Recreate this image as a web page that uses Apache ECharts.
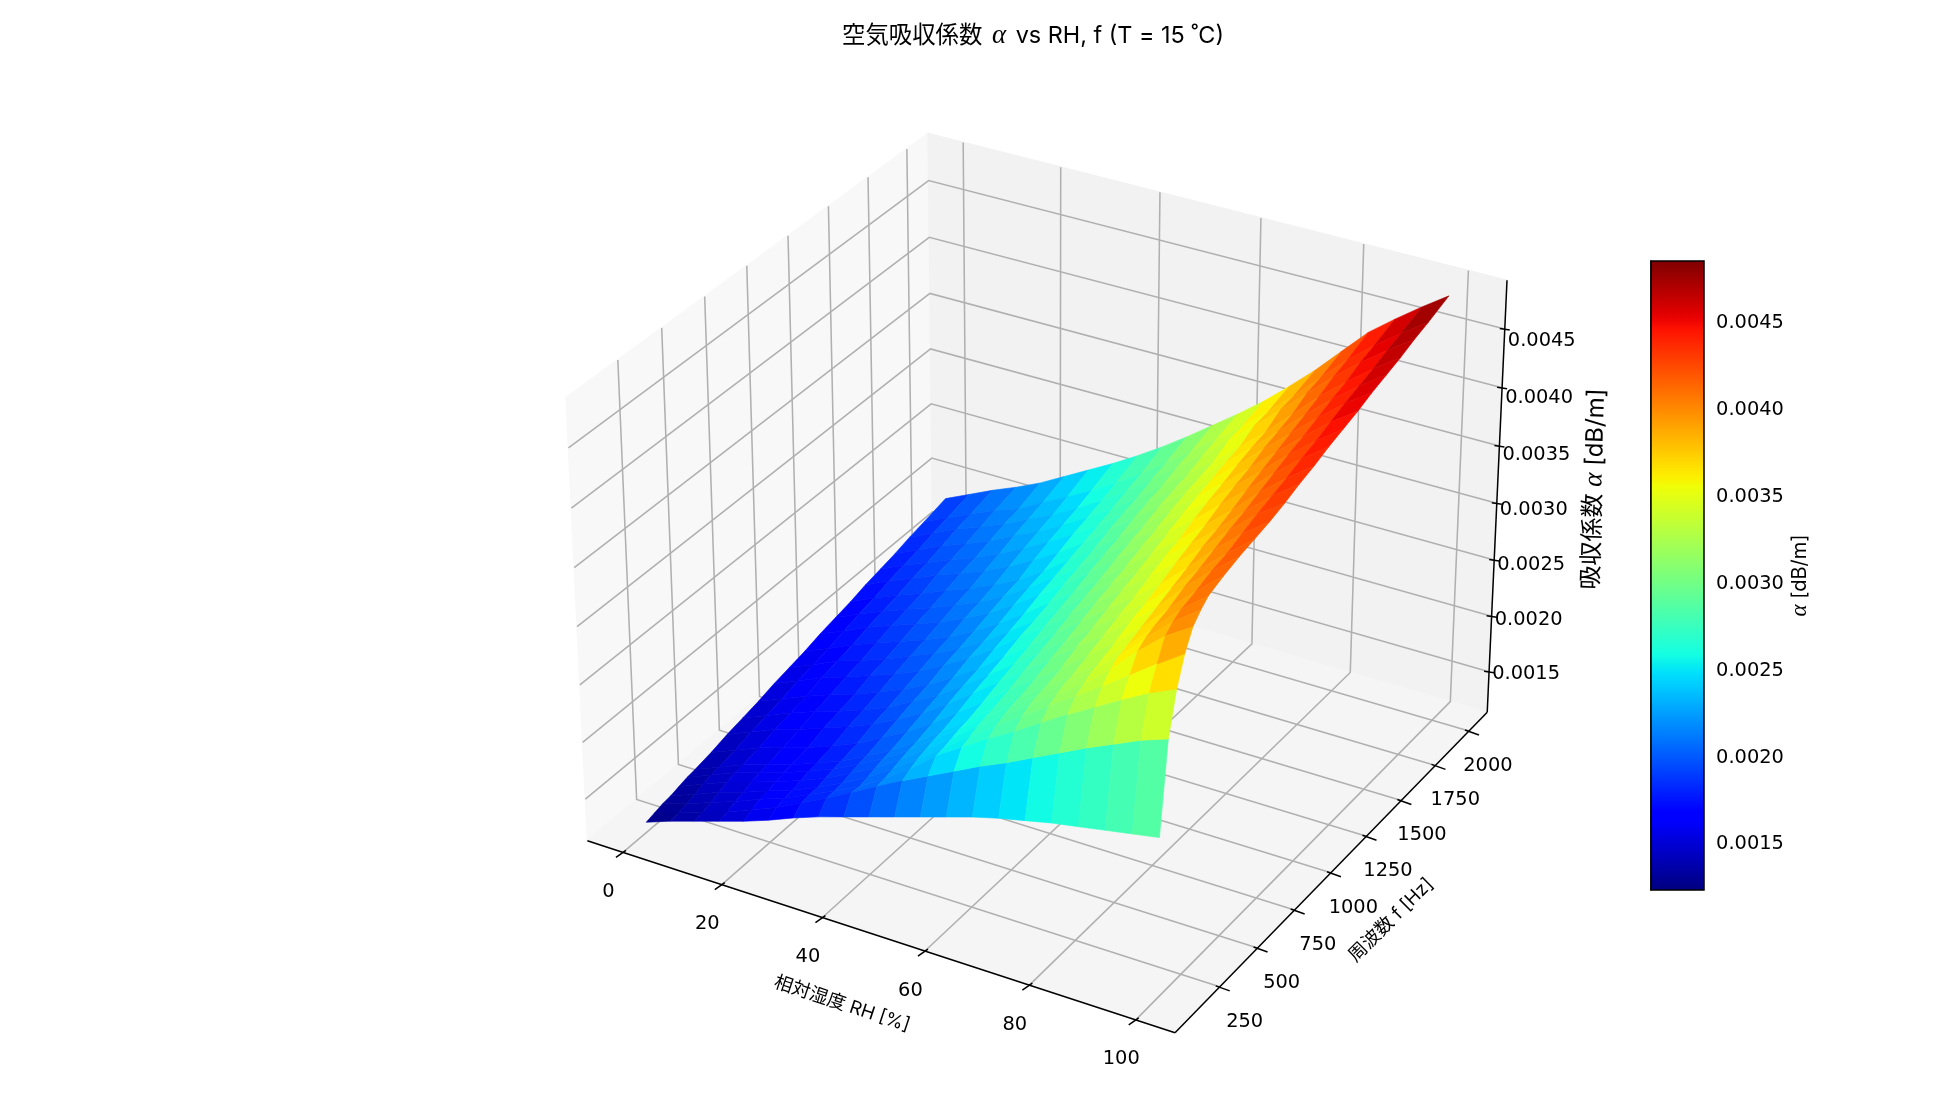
<!DOCTYPE html>
<html><head><meta charset="utf-8"><style>html,body{margin:0;background:#fff}#c{width:1960px;height:1120px}</style>
<script src="https://cdn.jsdelivr.net/npm/echarts@6/dist/echarts.min.js"></script></head><body><div id="c"></div>
<script>
const TITLE_TEXT='空気吸収係数 {a|α} vs RH, f (T = 15 ˚C)';
const RH=[0,5,10,15,20,25,30,35,40,45,50,55,60,65,70,75,80,85,90,95,100];
const FREQ=[100,149,198,246,295,344,392,490,588,685,782,880,978,1075,1173,1270,1368,1465,1563,1660,1758,1855,2000];
const ALPHA_UNIT=1e-5;
const alpha_f100=[122,130,137,144,151,159,168,176,183,190,197,204,211,218,224,229,234,238,242,246,250];
const alpha_f149=[124,131,139,146,155,164,175,186,198,210,222,233,244,255,265,276,287,298,308,318,326];
const alpha_f198=[126,133,141,149,158,166,176,186,197,211,226,244,258,272,285,299,313,326,339,351,361];
const alpha_f246=[127,135,144,151,159,167,176,187,199,213,229,245,261,277,292,307,322,337,353,369,384];
const alpha_f295=[129,138,147,154,161,169,178,189,201,215,231,247,264,280,296,311,326,345,367,386,400];
const alpha_f344=[131,140,149,156,163,171,180,191,203,217,233,249,266,282,298,314,330,350,372,392,408];
const alpha_f392=[132,141,150,157,164,172,181,192,204,218,234,250,267,283,299,315,332,352,375,396,414];
const alpha_f490=[135,144,153,160,167,175,184,196,208,222,238,254,271,287,303,320,337,357,379,400,419];
const alpha_f588=[139,148,157,164,172,180,189,200,212,227,243,259,276,292,309,325,343,362,385,405,423];
const alpha_f685=[142,151,160,168,175,183,192,204,216,231,247,263,280,296,313,330,347,367,389,408,426];
const alpha_f782=[145,154,163,171,178,187,196,207,220,234,251,267,284,301,318,334,352,372,394,413,429];
const alpha_f880=[149,158,168,175,183,191,200,212,225,239,256,272,289,306,323,340,358,378,399,418,433];
const alpha_f978=[152,161,171,178,186,195,204,215,228,243,259,276,293,310,327,345,363,382,403,422,438];
const alpha_f1075=[155,164,174,182,190,198,207,219,232,247,263,280,297,314,332,349,368,387,408,426,442];
const alpha_f1173=[159,168,178,186,194,202,212,223,237,252,268,285,302,319,337,355,374,393,413,431,447];
const alpha_f1270=[162,172,181,189,197,206,215,227,241,256,272,289,306,323,342,360,379,398,418,435,451];
const alpha_f1368=[165,175,184,192,201,209,219,230,244,260,276,293,310,328,346,364,383,403,422,440,455];
const alpha_f1465=[169,179,188,197,205,214,224,236,249,264,281,298,315,332,350,369,389,408,427,445,460];
const alpha_f1563=[172,182,191,200,208,218,229,241,254,268,285,302,318,335,354,373,393,413,432,449,464];
const alpha_f1660=[175,185,195,203,212,223,233,245,258,272,288,305,321,338,357,376,397,418,436,453,468];
const alpha_f1758=[179,189,199,207,216,227,237,249,262,277,293,310,326,345,364,384,404,424,442,458,473];
const alpha_f1855=[182,192,202,211,219,231,242,254,267,281,297,313,330,347,366,386,407,428,446,462,477];
const alpha_f2000=[187,197,207,216,226,238,250,262,275,289,304,320,336,353,372,392,414,436,453,469,484];
const ALPHA_ROWS=[alpha_f100,alpha_f149,alpha_f198,alpha_f246,alpha_f295,alpha_f344,alpha_f392,alpha_f490,alpha_f588,alpha_f685,alpha_f782,alpha_f880,alpha_f978,alpha_f1075,alpha_f1173,alpha_f1270,alpha_f1368,alpha_f1465,alpha_f1563,alpha_f1660,alpha_f1758,alpha_f1855,alpha_f2000];
const RH_TICKS=[0,20,40,60,80,100];
const F_TICKS=[250,500,750,1000,1250,1500,1750,2000];
const ALPHA_TICKS=[0.0015,0.002,0.0025,0.003,0.0035,0.004,0.0045];
const RH_RANGE=[-7.29,107.29], F_RANGE=[-38.5,2138.5], Z_RANGE=[0.00113,0.00491];
const C_RANGE=[0.00122,0.00484];

const lm=echarts.number.linearMap;
const BOX=[1.19048,1.19048,0.89286], S=5655, CX=1045.6, CY=561.5;
function proj(rh,f,a){
  const dx=lm(rh,RH_RANGE,[-BOX[0]/2,BOX[0]/2]),dy=lm(f,F_RANGE,[-BOX[1]/2,BOX[1]/2]),dz=lm(a,Z_RANGE,[-BOX[2]/2,BOX[2]/2]);
  const xv=.866025*dx+.5*dy, yv=-.25*dx+.433013*dy+.866025*dz, w=.433013*dx-.75*dy+.5*dz, D=10-w;
  return {x:CX+S*xv/D,y:CY-S*yv/D,d:D};
}
const P=(a,b,c)=>{const p=proj(a,b,c);return [p.x,p.y];};
function jet(t){
  const seg=(pts)=>{for(let i=1;i<pts.length;i++){if(t<=pts[i][0])return lm(t,[pts[i-1][0],pts[i][0]],[pts[i-1][1],pts[i][1]]);}return pts[pts.length-1][1];};
  t=Math.max(0,Math.min(1,t));
  const r=seg([[0,0],[.35,0],[.66,1],[.89,1],[1,.5]]),g=seg([[0,0],[.125,0],[.375,1],[.64,1],[.91,0],[1,0]]),b=seg([[0,.5],[.11,1],[.34,1],[.65,0],[1,0]]);
  return `rgb(${Math.round(r*255)},${Math.round(g*255)},${Math.round(b*255)})`;
}
const [xa,xb]=RH_RANGE,[ya,yb]=F_RANGE,[za,zb]=Z_RANGE;
const A=(j,i)=>ALPHA_ROWS[j][i]*ALPHA_UNIT;
const cells=[];
for(let j=0;j<FREQ.length-1;j++)for(let i=0;i<RH.length-1;i++){
  const cs=[[i,j],[i+1,j],[i+1,j+1],[i,j+1]];
  let dep=0,av=0;cs.forEach(c=>{const v=A(c[1],c[0]);av+=v/4;dep+=proj(RH[c[0]],FREQ[c[1]],v).d/4;});
  cells.push({i,j,dep,av});
}
cells.sort((a,b)=>b.dep-a.dep);
const surfaceData=cells.map(c=>[c.i,c.j,c.av]);
const FONT="Inter,'Noto Sans CJK JP',sans-serif";
const TICK_FONT="'DejaVu Sans',sans-serif";
const GRID='#b0b0b0', PANE_L='#f8f8f8', PANE_B='#f2f2f2', PANE_F='#f5f5f5';
function pane(pts,c){return {type:'polygon',shape:{points:pts},style:{fill:c,stroke:c,lineWidth:1.5}};}
function line(pts,c,w){return {type:'polyline',shape:{points:pts},style:{stroke:c,lineWidth:w,fill:null}};}
function txt(t,x,y,size,rot,rich,fam){return {type:'text',x,y,rotation:rot||0,style:{text:t,fontFamily:fam||FONT,fontSize:size,fill:'#000',align:'center',verticalAlign:'middle',textAlign:'center',textVerticalAlign:'middle',rich:rich}};}
const off=(p,dx,dy)=>[p[0]+dx,p[1]+dy];
function axesBack(){
  const ch=[];
  ch.push(pane([P(xa,ya,za),P(xa,yb,za),P(xa,yb,zb),P(xa,ya,zb)],PANE_L));
  ch.push(pane([P(xa,yb,za),P(xb,yb,za),P(xb,yb,zb),P(xa,yb,zb)],PANE_B));
  ch.push(pane([P(xa,ya,za),P(xb,ya,za),P(xb,yb,za),P(xa,yb,za)],PANE_F));
  RH_TICKS.forEach(v=>ch.push(line([P(v,ya,za),P(v,yb,za),P(v,yb,zb)],GRID,1.55)));
  F_TICKS.forEach(v=>ch.push(line([P(xb,v,za),P(xa,v,za),P(xa,v,zb)],GRID,1.55)));
  ALPHA_TICKS.forEach(v=>ch.push(line([P(xb,yb,v),P(xa,yb,v),P(xa,ya,v)],GRID,1.55)));
  ch.push(line([P(xa,ya,za),P(xb,ya,za)],'#000',1.5));
  ch.push(line([P(xb,ya,za),P(xb,yb,za)],'#000',1.5));
  ch.push(line([P(xb,yb,za),P(xb,yb,zb)],'#000',1.5));
  RH_TICKS.forEach(v=>{const p=P(v,ya,za);ch.push(line([off(p,-7,5),off(p,3,-2)],'#000',1.5));ch.push(txt(String(v),p[0]-14.5,p[1]+39.5,19.4,0,null,TICK_FONT));});
  F_TICKS.forEach(v=>{const p=P(xb,v,za);ch.push(line([off(p,-4,-1),off(p,10,4)],'#000',1.5));ch.push(txt(String(v),p[0]+21+(1400-v)/1750*6,p[1]+35,19.4,0,null,TICK_FONT));});
  ALPHA_TICKS.forEach(v=>{const p=P(xb,yb,v);ch.push(line([off(p,-5,-.5),off(p,5,1)],'#000',1.5));ch.push(txt(v.toFixed(4),p[0]+37,p[1]+2+(v-0.0015)/0.003*10,19.4,0,null,TICK_FONT));});
  const ri={a:{fontFamily:'Liberation Serif',fontStyle:'italic',fontSize:27}};
  ch.push(txt('相対湿度 RH [%]',842,1004,18.5,-0.32));
  ch.push(txt('周波数 f [Hz]',1391,920,18.5,0.78));
  ch.push(txt('吸収係数 {a|α} [dB/m]',1594,489,24,Math.PI/2-0.03,ri));
  return {type:'group',children:ch};
}
const stops=[];for(let k=0;k<=64;k++){stops.push({offset:k/64,color:jet(1-k/64)});}
const option={
  animation:false,backgroundColor:'#fff',
  title:{text:TITLE_TEXT,left:1028,top:17,textAlign:'center',textStyle:{fontFamily:FONT,fontSize:23.4,fontWeight:'normal',color:'#000',rich:{a:{fontFamily:'Liberation Serif',fontStyle:'italic',fontSize:27,color:'#000',padding:[0,3,0,3]}}}},
  grid:{left:1651,top:261,width:53,height:629,show:false},
  xAxis:{type:'value',min:0,max:1,show:false},
  yAxis:{type:'value',position:'right',min:C_RANGE[0],max:C_RANGE[1],
    splitLine:{show:false},axisLine:{show:true,lineStyle:{color:'#000',width:1.5}},
    axisTick:{show:true,length:7,customValues:ALPHA_TICKS,lineStyle:{color:'#000',width:1.5}},
    axisLabel:{show:false,customValues:ALPHA_TICKS},
    name:'{a|α} [dB/m]',nameLocation:'middle',nameRotate:90,nameGap:84,
    nameTextStyle:{fontFamily:FONT,fontSize:20,color:'#000',rich:{a:{fontFamily:'Liberation Serif',fontStyle:'italic',fontSize:23,color:'#000'}}}},
  series:[
    {type:'custom',coordinateSystem:'none',silent:true,z:1,data:[0],clip:false,renderItem:()=>axesBack()},
    {type:'custom',coordinateSystem:'none',silent:true,z:2,data:surfaceData,clip:false,progressive:0,
      dimensions:['i','j','a'],encode:{},
      renderItem:(p,api)=>{
        const i=api.value(0),j=api.value(1),c=jet(lm(api.value(2),C_RANGE,[0,1]));
        const pts=[[i,j],[i+1,j],[i+1,j+1],[i,j+1]].map(q=>P(RH[q[0]],FREQ[q[1]],A(q[1],q[0])));
        return {type:'polygon',shape:{points:pts},style:{fill:c,stroke:c,lineWidth:0.6}};
      }},
    {type:'custom',coordinateSystem:'cartesian2d',xAxisIndex:0,yAxisIndex:0,silent:true,z:3,data:[[0,0]],clip:false,
      renderItem:(p,api)=>{
        const a=api.coord([0,C_RANGE[1]]),b=api.coord([1,C_RANGE[0]]);
        const labels=ALPHA_TICKS.map(v=>txt(v.toFixed(4),b[0]+46,api.coord([1,v])[1]+3,19.4,0,null,TICK_FONT));
        return {type:'group',children:[
          {type:'rect',shape:{x:a[0],y:a[1],width:b[0]-a[0],height:b[1]-a[1]},style:{fill:new echarts.graphic.LinearGradient(0,0,0,1,stops)}},
          {type:'rect',shape:{x:a[0],y:a[1],width:b[0]-a[0],height:b[1]-a[1]},style:{fill:null,stroke:'#000',lineWidth:1.5}}].concat(labels)};
      }}
  ]
};
const chart=echarts.init(document.getElementById('c'),null,{renderer:'canvas',width:1960,height:1120});
chart.setOption(option);
</script></body></html>
